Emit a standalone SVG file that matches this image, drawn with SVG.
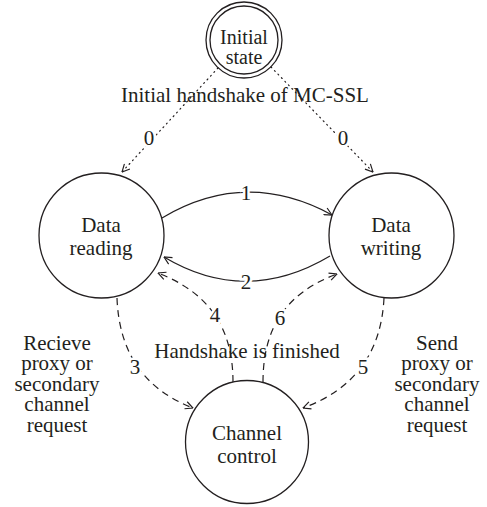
<svg xmlns="http://www.w3.org/2000/svg" width="487" height="507" viewBox="0 0 487 507">
<style>
text{font-family:"Liberation Serif","DejaVu Serif",serif;font-size:21px;fill:#231f20;text-anchor:middle}
.node{fill:none;stroke:#231f20;stroke-width:1.3}
.edge{fill:none;stroke:#231f20;stroke-width:1.2}
.dot{stroke-dasharray:1 4;stroke-linecap:round}
.dash{stroke-dasharray:7 5}
.lbl{paint-order:stroke;stroke:#fff;stroke-width:5px}
.small{font-size:20px}
</style>
<defs>
<marker id="arr" viewBox="0 0 10 10" refX="9.5" refY="5" markerWidth="9" markerHeight="9" markerUnits="userSpaceOnUse" orient="auto">
<path d="M1,0.8 L9.5,5 L1,9.2" fill="none" stroke="#231f20" stroke-width="1.3"/>
</marker>
</defs>
<g id="connectors">
<path class="edge dot" d="M218,68 L122,172" marker-end="url(#arr)"/>
<path class="edge dot" d="M271,67 L373,172" marker-end="url(#arr)"/>
<path class="edge" d="M162,218 Q246,168 332,215" marker-end="url(#arr)"/>
<path class="edge" d="M330,256 Q246,306 164,257" marker-end="url(#arr)"/>
<path class="edge dash" d="M117,298 Q120,380 193,408" marker-end="url(#arr)"/>
<path class="edge dash" d="M384,298 Q380,380 303,408" marker-end="url(#arr)"/>
<path class="edge dash" d="M233,382 C233,335 215,295 158,273" marker-end="url(#arr)"/>
<path class="edge dash" d="M263,382 C263,335 280,295 337,274" marker-end="url(#arr)"/>
<text x="245" y="102">Initial handshake of MC-SSL</text>
<text class="lbl" x="149" y="145">0</text>
<text class="lbl" x="343" y="145">0</text>
<text class="lbl" x="246" y="200">1</text>
<text class="lbl" x="246" y="289">2</text>
<text class="lbl" x="135" y="374">3</text>
<text class="lbl" x="215" y="322">4</text>
<text class="lbl" x="363" y="374">5</text>
<text class="lbl" x="280" y="325">6</text>
<text x="247" y="358">Handshake is finished</text>
<text x="57" y="350">Recieve</text>
<text x="57" y="370">proxy or</text>
<text x="57" y="391">secondary</text>
<text x="57" y="411">channel</text>
<text x="57" y="432">request</text>
<text x="437" y="350">Send</text>
<text x="437" y="370">proxy or</text>
<text x="437" y="391">secondary</text>
<text x="437" y="411">channel</text>
<text x="437" y="432">request</text>
</g>
<g id="initial">
<circle class="node" cx="244" cy="40" r="38"/>
<circle class="node" cx="244" cy="40" r="34"/>
<text class="small" x="244" y="44">Initial</text>
<text class="small" x="244" y="64">state</text>
</g>
<g id="reading">
<circle class="node" cx="101.5" cy="235.5" r="62.5"/>
<text x="101" y="232">Data</text>
<text x="101" y="255">reading</text>
</g>
<g id="writing">
<circle class="node" cx="391.5" cy="235.5" r="62.5"/>
<text x="391" y="232">Data</text>
<text x="391" y="255">writing</text>
</g>
<g id="control">
<circle class="node" cx="247" cy="442" r="61.5"/>
<text x="247" y="440">Channel</text>
<text x="247" y="463">control</text>
</g>
</svg>
